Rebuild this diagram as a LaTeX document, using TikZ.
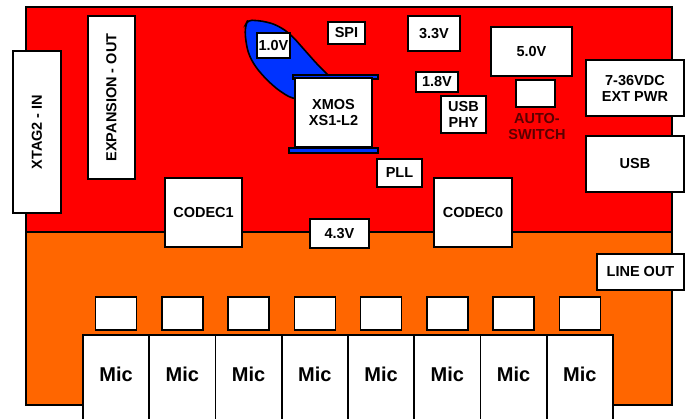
\documentclass[tikz,border=0pt]{standalone}
\usepackage{fontspec}
\setmainfont{Liberation Sans}
\usepackage{tikz}

\definecolor{boardred}{RGB}{255,0,0}
\definecolor{boardorange}{RGB}{255,102,0}
\definecolor{chipblue}{RGB}{0,51,255}
\definecolor{labelred}{RGB}{90,0,0}

\begin{document}
\begin{tikzpicture}[x=1pt,y=-1pt,line width=1.6pt,
        every node/.style={font=\bfseries\fontsize{14.5}{16}\selectfont},
        box/.style={draw, fill=white, inner sep=0pt, align=center},
        mic/.style={box, minimum width=66.25pt, minimum height=95pt, text depth=17pt, font=\bfseries\fontsize{20}{22}\selectfont},
        pad/.style={box, minimum width=41pt, minimum height=33pt}]
        \useasboundingbox (0,0) rectangle (686,419);
        \clip (0,0) rectangle (686,419);
        % board
        \fill[boardred] (26,7) rectangle (672,232);
        \fill[boardorange] (26,232) rectangle (672,405);
        \draw (26,7) rectangle (672,405);
        \draw (26,232) -- (672,232);
        % xmos with its blue parts
        \draw[fill=chipblue, rounded corners=4pt] (248,20) -- (262,21) -- (274,24) -- (285,30) -- (294,38)
            -- (301,46) -- (317,64) -- (330,77) -- (300,77) -- (300,100) -- (289,97) -- (277,89)
            -- (267,80) -- (258,70) -- (252,61) -- (248,52) -- (246,42) -- (245,32) -- (246,24) -- cycle;
        \node[draw, fill=chipblue, minimum width=85pt, minimum height=4pt, inner sep=0pt] (bartop) at (335.5,77) {};
        \node[draw, fill=chipblue, minimum width=89pt, minimum height=5pt, inner sep=0pt] (barbot) at (333.5,150.5) {};
        \node[box, minimum width=77pt, minimum height=69pt] (xmos) at (333.5,112.5) {XMOS\\XS1-L2};
        \node[box, minimum width=33pt, minimum height=25pt] (v10) at (273.5,45.5) {1.0V};
        \node[box, minimum width=37pt, minimum height=22pt] (spi) at (346.5,33) {SPI};
        \node[box, minimum width=52pt, minimum height=35pt] (v33) at (434,33.5) {3.3V};
        \node[box, minimum width=42pt, minimum height=20pt] (v18) at (437,82) {1.8V};
        \node[box, minimum width=45pt, minimum height=37pt] (usbphy) at (463.5,114.5) {USB\\PHY};
        \node[box, minimum width=45pt, minimum height=28pt] (pll) at (399.5,173) {PLL};
        \node[box, minimum width=81pt, minimum height=49pt] (v50) at (531.5,51.5) {5.0V};
        \node[box, minimum width=39pt, minimum height=27pt] (autosw) at (535.5,93.5) {};
        \node[text=labelred, align=center, inner sep=0pt] (autolbl) at (537,127) {AUTO-\\SWITCH};
        % connectors on the edges
        \node[box, minimum width=162pt, minimum height=48pt, rotate=90] (xtag) at (37,132) {XTAG2 - IN};
        \node[box, minimum width=163pt, minimum height=47pt, rotate=90] (expout) at (111.5,97.5) {EXPANSION - OUT};
        \node[box, minimum width=98pt, minimum height=56pt] (extpwr) at (635,88) {7-36VDC\\EXT PWR};
        \node[box, minimum width=98pt, minimum height=56pt] (usb) at (635,164) {USB};
        \node[box, minimum width=87pt, minimum height=36pt] (lineout) at (640.5,272) {LINE OUT};
        % codecs
        \node[box, minimum width=77pt, minimum height=69pt] (codec1) at (203.5,212.5) {CODEC1};
        \node[box, minimum width=78pt, minimum height=69pt] (codec0) at (473,212.5) {CODEC0};
        \node[box, minimum width=59pt, minimum height=29pt] (v43) at (339.5,233.5) {4.3V};
        % microphones
        \foreach \i in {0,...,7} {
            \node[mic] (mic\i) at (116.125+66.25*\i,382.5) {Mic};
            \node[pad] (pad\i) at (116.125+66.25*\i,313.5) {};
        }
    \end{tikzpicture}
\end{document}
